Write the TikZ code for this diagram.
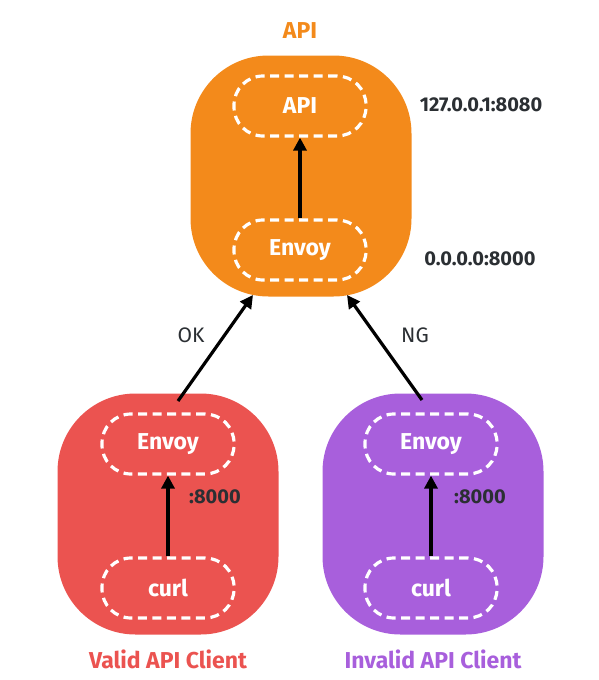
\documentclass[tikz,border=0pt]{standalone}
\usepackage{fontspec}
\setmainfont{Fira Sans}
\usetikzlibrary{arrows.meta,positioning}

\definecolor{apiorange}{HTML}{F38A1B}
\definecolor{validred}{HTML}{EB5350}
\definecolor{invalidpurple}{HTML}{A85FDC}
\definecolor{labelgray}{HTML}{2B2F33}

\begin{document}
\begin{tikzpicture}[x=1pt,y=-1pt,
  host/.style={draw=none, minimum width=221pt, minimum height=241pt,
    rounded corners=78pt, inner sep=0pt},
  proc/.style={draw=white, line width=3.2pt, dash pattern=on 9pt off 5.5pt,
    rounded corners=29pt, minimum width=132pt, minimum height=60pt,
    text=white, font=\fontsize{23}{26}\selectfont\bfseries},
  flow/.style={line width=3.2pt, -{Triangle[length=13pt,width=13pt]}},
  addr/.style={text=labelgray, font=\fontsize{20}{24}\selectfont\bfseries},
  title/.style={font=\fontsize{23}{26}\selectfont\bfseries}]
\useasboundingbox (0,0) rectangle (598,680);

% server side
\node[host, fill=apiorange] (server) at (301,176) {};
\node[proc] (api) at (300,106) {API};
\node[proc] (serverenvoy) at (300,250) {Envoy};
\draw[flow] (serverenvoy) -- (api);
\node[title, text=apiorange] (servertitle) at (300,31) {API};
\node[addr] (apiaddr) at (481,105) {127.0.0.1:8080};
\node[addr] (envoyaddr) at (480,259) {0.0.0.0:8000};

% valid client
\node[host, fill=validred] (valid) at (168,514) {};
\node[proc] (validenvoy) at (168,444) {Envoy};
\node[proc] (validcurl) at (168,588) {curl};
\draw[flow] (validcurl) -- (validenvoy);
\node[addr] (validport) at (215,497) {:8000};
\node[title, text=validred] (validtitle) at (168,659) {Valid API Client};

% invalid client
\node[host, fill=invalidpurple] (invalid) at (433,514) {};
\node[proc] (invalidenvoy) at (431,444) {Envoy};
\node[proc] (invalidcurl) at (431,588) {curl};
\draw[flow] (invalidcurl) -- (invalidenvoy);
\node[addr] (invalidport) at (480,497) {:8000};
\node[title, text=invalidpurple] (invalidtitle) at (433,659) {Invalid API Client};

% requests
\coordinate (oktail) at (178,401);
\coordinate (okhead) at (253,295);
\coordinate (ngtail) at (422,400);
\coordinate (nghead) at (347,295);
\draw[flow] (oktail) -- (okhead);
\draw[flow] (ngtail) -- (nghead);
\node[text=labelgray, font=\fontsize{21}{24}\selectfont] (ok) at (191,335) {OK};
\node[text=labelgray, font=\fontsize{21}{24}\selectfont] (ng) at (415,335) {NG};
\end{tikzpicture}
\end{document}
